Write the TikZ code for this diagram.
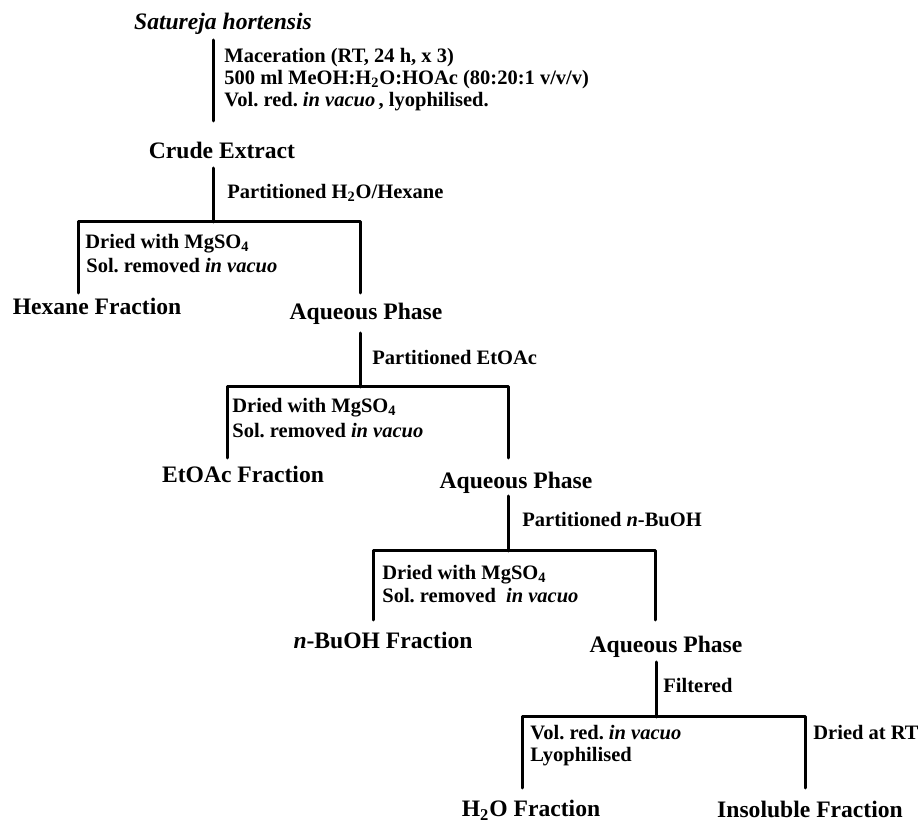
\documentclass[tikz,border=0pt]{standalone}
\usepackage{fontspec}
\setmainfont{Liberation Serif}
\frenchspacing
\begin{document}
\begin{tikzpicture}[x=0.5pt,y=-0.5pt,
  big/.style={font=\fontsize{11.8}{14}\selectfont\bfseries, inner sep=0pt, anchor=base},
  small/.style={font=\fontsize{10.25}{12}\selectfont\bfseries, inner sep=0pt, anchor=base west},
  link/.style={line width=1.5pt, line cap=round, line join=round}]
\useasboundingbox (0,0) rectangle (918,824);

% texts
\node[big] (sat) at (223,30) {\textit{Satureja hortensis}};
\node[small] (m1) at (224,63) {Maceration (RT, 24 h, x 3)};
\node[small] (m2) at (224,85) {500 ml MeOH:H\textsubscript{2}O:HOAc (80:20:1 v/v/v)};
\node[small] (m3) at (224,107) {Vol. red. \textit{in vacuo}\,, lyophilised.};
\node[big] (crude) at (222,159) {Crude Extract};
\node[small] (p1) at (227,199) {Partitioned H\textsubscript{2}O/Hexane};
\node[small] (d1a) at (85,249) {Dried with MgSO\textsubscript{4}};
\node[small] (d1b) at (86,273) {Sol. removed \textit{in vacuo}};
\node[big] (hex) at (97,315) {Hexane Fraction};
\node[big] (aq1) at (366,320) {Aqueous Phase};
\node[small] (p2) at (372,365) {Partitioned EtOAc};
\node[small] (d2a) at (232,413) {Dried with MgSO\textsubscript{4}};
\node[small] (d2b) at (232,438) {Sol. removed \textit{in vacuo}};
\node[big] (eto) at (243,483) {EtOAc Fraction};
\node[big] (aq2) at (516,488) {Aqueous Phase};
\node[small] (p3) at (522,527) {Partitioned \textit{n}-BuOH};
\node[small] (d3a) at (382,580) {Dried with MgSO\textsubscript{4}};
\node[small] (d3b) at (382,603) {Sol. removed\ \ \textit{in vacuo}};
\node[big] (bu) at (383,648) {\textit{n}-BuOH Fraction};
\node[big] (aq3) at (666,653) {Aqueous Phase};
\node[small] (f) at (663,692) {Filtered};
\node[small] (v1) at (530,740) {Vol. red. \textit{in vacuo}};
\node[small] (v2) at (530,762) {Lyophilised};
\node[small] (rt) at (813,740) {Dried at RT};
\node[big] (h2o) at (531,817) {H\textsubscript{2}O Fraction};
\node[big] (ins) at (810,818) {Insoluble Fraction};

% junction coordinates
\coordinate (a1) at (213,40);   \coordinate (a2) at (213,121);
\coordinate (b1) at (213,168);  \coordinate (b2) at (213,222);
\coordinate (bl) at (78,222);   \coordinate (br) at (360,222);
\coordinate (bld) at (78,293);  \coordinate (brd) at (360,293);
\coordinate (c1) at (360,333);  \coordinate (c2) at (360,387);
\coordinate (cl) at (227,387);  \coordinate (cr) at (508,387);
\coordinate (cld) at (227,458); \coordinate (crd) at (508,458);
\coordinate (e1) at (508,496);  \coordinate (e2) at (508,551);
\coordinate (el) at (373,551);  \coordinate (er) at (655,551);
\coordinate (eld) at (373,620); \coordinate (erd) at (655,620);
\coordinate (g1) at (656,662);  \coordinate (g2) at (656,717);
\coordinate (gl) at (522,717);  \coordinate (gr) at (805,717);
\coordinate (gld) at (522,788); \coordinate (grd) at (805,788);

% connectors
\draw[link] (a1) -- (a2);
\draw[link] (b1) -- (b2);
\draw[link] (bld) -- (bl) -- (br) -- (brd);
\draw[link] (c1) -- (c2);
\draw[link] (cld) -- (cl) -- (cr) -- (crd);
\draw[link] (e1) -- (e2);
\draw[link] (eld) -- (el) -- (er) -- (erd);
\draw[link] (g1) -- (g2);
\draw[link] (gld) -- (gl) -- (gr) -- (grd);
\end{tikzpicture}
\end{document}
